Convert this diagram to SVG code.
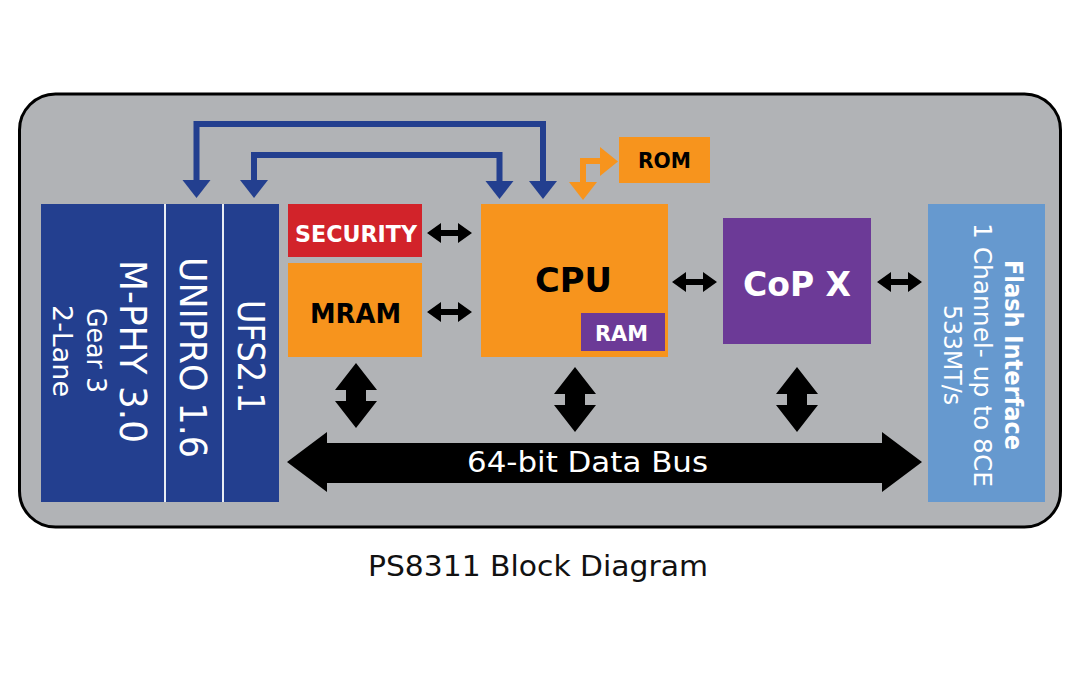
<svg xmlns="http://www.w3.org/2000/svg" width="1080" height="675" viewBox="0 0 1080 675">
<style>
  .t { font-family: "DejaVu Sans", "Liberation Sans", sans-serif; }
  .b { font-weight: bold; }
  .w { fill: #ffffff; }
  .k { fill: #000000; }
  .blue { fill: #233f8f; }
  .orange { fill: #f7941d; }
  .purple { fill: #6c3a97; }
  .red { fill: #d2232a; }
  .lblue { fill: #6699cf; }
  .conn-blue { fill: none; stroke: #233f8f; stroke-width: 6; }
  .conn-orange { fill: none; stroke: #f7941d; stroke-width: 6; }
</style>
<defs>
  <path id="harrow" d="M0,0 L14,-10 L14,-3 L31,-3 L31,-10 L45,0 L31,10 L31,3 L14,3 L14,10 Z" fill="#000"/>
  <path id="varrow" d="M0,0 L21,27 L10,27 L10,38 L21,38 L0,65 L-21,38 L-10,38 L-10,27 L-21,27 Z" fill="#000"/>
</defs>
<rect width="1080" height="675" fill="#ffffff"/>
<rect id="chip" x="19.5" y="94" width="1041" height="433" rx="36" fill="#b1b3b6" stroke="#000" stroke-width="3"/>

<g id="mphy">
  <rect x="41" y="204" width="124" height="298" class="blue"/>
  <text class="t w" font-size="37" text-anchor="middle" textLength="183" lengthAdjust="spacingAndGlyphs" transform="translate(120,351.5) rotate(90)">M-PHY 3.0</text>
  <text class="t w" font-size="27" text-anchor="middle" textLength="85" lengthAdjust="spacingAndGlyphs" transform="translate(87,350.5) rotate(90)">Gear 3</text>
  <text class="t w" font-size="27" text-anchor="middle" textLength="92" lengthAdjust="spacingAndGlyphs" transform="translate(53,351) rotate(90)">2-Lane</text>
</g>
<g id="unipro">
  <rect x="166" y="204" width="57" height="298" class="blue"/>
  <text class="t w" font-size="37" text-anchor="middle" textLength="201" lengthAdjust="spacingAndGlyphs" transform="translate(180,357.5) rotate(90)">UNIPRO 1.6</text>
</g>
<g id="ufs">
  <rect x="224" y="204" width="55" height="298" class="blue"/>
  <text class="t w" font-size="37" text-anchor="middle" textLength="113" lengthAdjust="spacingAndGlyphs" transform="translate(238,356.5) rotate(90)">UFS2.1</text>
</g>
<line x1="165" y1="204" x2="165" y2="502" stroke="#e8ecf4" stroke-width="2"/>
<line x1="223" y1="204" x2="223" y2="502" stroke="#e8ecf4" stroke-width="2"/>

<g id="security">
  <rect x="288" y="204" width="134" height="53" class="red"/>
  <text x="356" y="242" class="t b w" font-size="23" text-anchor="middle" textLength="122" lengthAdjust="spacingAndGlyphs">SECURITY</text>
</g>
<g id="mram">
  <rect x="288" y="263" width="134" height="94" class="orange"/>
  <text x="355.5" y="323" class="t b k" font-size="26" text-anchor="middle" textLength="91" lengthAdjust="spacingAndGlyphs">MRAM</text>
</g>
<g id="cpu">
  <rect x="481" y="204" width="187" height="153" class="orange"/>
  <text x="573.5" y="292" class="t b k" font-size="33" text-anchor="middle" textLength="77" lengthAdjust="spacingAndGlyphs">CPU</text>
</g>
<g id="ram">
  <rect x="581" y="313" width="84" height="38" class="purple"/>
  <text x="621.5" y="341" class="t b w" font-size="21" text-anchor="middle" textLength="53" lengthAdjust="spacingAndGlyphs">RAM</text>
</g>
<g id="rom">
  <rect x="619" y="137" width="91" height="46" class="orange"/>
  <text x="664.5" y="168" class="t b k" font-size="21" text-anchor="middle" textLength="53" lengthAdjust="spacingAndGlyphs">ROM</text>
</g>
<g id="copx">
  <rect x="723" y="218" width="148" height="126" class="purple"/>
  <text x="797" y="296" class="t b w" font-size="33" text-anchor="middle" textLength="108" lengthAdjust="spacingAndGlyphs">CoP X</text>
</g>
<g id="flash">
  <rect x="928" y="204" width="117" height="298" class="lblue"/>
  <text class="t b w" font-size="24" text-anchor="middle" textLength="190" lengthAdjust="spacingAndGlyphs" transform="translate(1005,355) rotate(90)">Flash Interface</text>
  <text class="t w" font-size="24" text-anchor="middle" textLength="264" lengthAdjust="spacingAndGlyphs" transform="translate(974,355) rotate(90)">1 Channel- up to 8CE</text>
  <text class="t w" font-size="24" text-anchor="middle" textLength="100" lengthAdjust="spacingAndGlyphs" transform="translate(944,355) rotate(90)">533MT/s</text>
</g>

<g id="connectors">
  <path class="conn-blue" d="M196.5,182 V124 H543 V182"/>
  <polygon class="blue" points="182.5,180 210.5,180 196.5,198"/>
  <polygon class="blue" points="529,181 557,181 543,199"/>
  <path class="conn-blue" d="M254,182 V155 H499.5 V182"/>
  <polygon class="blue" points="240,180 268,180 254,198"/>
  <polygon class="blue" points="485.5,181 513.5,181 499.5,199"/>
  <path class="conn-orange" d="M583,183 V161 H601"/>
  <polygon class="orange" points="569,182 597,182 583,200"/>
  <polygon class="orange" points="600,147 600,176 618,161.5"/>
  <use href="#harrow" x="427" y="233"/>
  <use href="#harrow" x="427" y="312"/>
  <use href="#harrow" x="672" y="282"/>
  <use href="#harrow" x="877" y="282"/>
  <use href="#varrow" x="356" y="363"/>
  <use href="#varrow" x="575" y="367"/>
  <use href="#varrow" x="797" y="367"/>
  <g id="bus">
    <polygon fill="#000" points="287,462 327,432 327,443 882,443 882,432 922,462 882,492 882,483 327,483 327,492"/>
    <text x="587.5" y="472" class="t w" font-size="28" text-anchor="middle" textLength="241" lengthAdjust="spacingAndGlyphs">64-bit Data Bus</text>
  </g>
</g>

<text x="538" y="576" class="t" fill="#111" font-size="29" text-anchor="middle" textLength="340" lengthAdjust="spacingAndGlyphs">PS8311 Block Diagram</text>
</svg>
